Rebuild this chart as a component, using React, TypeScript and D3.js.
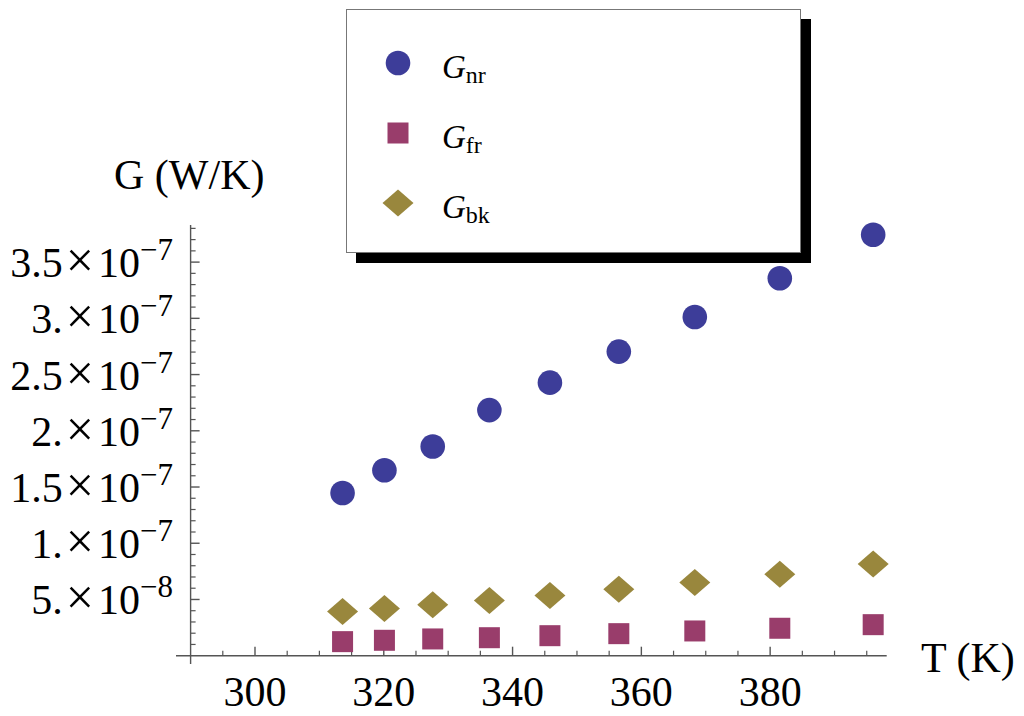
import * as d3 from "d3";

// ── Data ──────────────────────────────────────────────────────
const T_K = [313.6, 320.1, 327.6, 336.4, 345.8, 356.5, 368.3, 381.5, 396.0];
const G_NR = [1.447e-7, 1.649e-7, 1.86e-7, 2.184e-7, 2.428e-7, 2.704e-7, 3.012e-7, 3.357e-7, 3.743e-7];
const G_FR = [1.25e-8, 1.37e-8, 1.49e-8, 1.6e-8, 1.78e-8, 1.96e-8, 2.2e-8, 2.44e-8, 2.76e-8];
const G_BK = [3.92e-8, 4.19e-8, 4.52e-8, 4.9e-8, 5.35e-8, 5.92e-8, 6.51e-8, 7.25e-8, 8.15e-8];

const X_MAJOR = [300, 320, 340, 360, 380];
const Y_MAJOR = [5e-8, 1e-7, 1.5e-7, 2e-7, 2.5e-7, 3e-7, 3.5e-7];
const Y_LABELS = [
  { m: "5.", e: "−8" },
  { m: "1.", e: "−7" },
  { m: "1.5", e: "−7" },
  { m: "2.", e: "−7" },
  { m: "2.5", e: "−7" },
  { m: "3.", e: "−7" },
  { m: "3.5", e: "−7" },
];

const LEGEND = [
  { name: "nr", color: "#3d3d99", shape: "circle" },
  { name: "fr", color: "#993d6b", shape: "square" },
  { name: "bk", color: "#99873d", shape: "diamond" },
];

// ── Geometry ──────────────────────────────────────────────────
const W = 1024;
const H = 716;
const FONT = "'Liberation Serif', 'Times New Roman', serif";
const AXIS = "#555555";

const x = d3.scaleLinear().domain([290, 398.1]).range([190.6, 886.7]);
const y = d3.scaleLinear().domain([0, 3.83e-7]).range([655.7, 225]);

const xMinor = d3.range(295, 398, 5).filter((v) => v % 20 !== 0);
const yMinor = d3.range(1, 39).map((i) => i * 1e-8).filter((_, i) => (i + 1) % 5 !== 0);

const R = 12.3;
const SQ = 21;
const DW = 15.5;
const DH = 13.5;

function diamond(cx: number, cy: number) {
  return `M${cx - DW},${cy}L${cx},${cy - DH}L${cx + DW},${cy}L${cx},${cy + DH}Z`;
}

function Marker({ shape, color, cx, cy }: { shape: string; color: string; cx: number; cy: number }) {
  if (shape === "circle") return <circle cx={cx} cy={cy} r={R} fill={color} />;
  if (shape === "square")
    return <rect x={cx - SQ / 2} y={cy - SQ / 2} width={SQ} height={SQ} fill={color} />;
  return <path d={diamond(cx, cy)} fill={color} />;
}

export default function App() {
  const series = [G_NR, G_FR, G_BK];

  return (
    <svg
      width={W}
      height={H}
      style={{ position: "absolute", left: 0, top: 0, background: "#fff" }}
      fontFamily={FONT}
    >
      {/* axes */}
      <line x1={176} x2={x(398.1)} y1={y(0)} y2={y(0)} stroke={AXIS} strokeWidth={1.4} />
      <line x1={x(290)} x2={x(290)} y1={y(3.83e-7)} y2={664} stroke={AXIS} strokeWidth={1.4} />

      {X_MAJOR.map((v) => (
        <g key={v}>
          <line x1={x(v)} x2={x(v)} y1={y(0)} y2={y(0) - 9} stroke={AXIS} strokeWidth={1.4} />
          <text x={x(v)} y={706} fontSize={42} textAnchor="middle" fill="#000">
            {v}
          </text>
        </g>
      ))}
      {xMinor.map((v) => (
        <line key={v} x1={x(v)} x2={x(v)} y1={y(0)} y2={y(0) - 5} stroke={AXIS} strokeWidth={1.2} />
      ))}

      {Y_MAJOR.map((v, i) => (
        <g key={v}>
          <line x1={x(290)} x2={x(290) + 9} y1={y(v)} y2={y(v)} stroke={AXIS} strokeWidth={1.4} />
          <text x={173} y={y(v) + 15} fontSize={42} textAnchor="end" fill="#000">
            <tspan>{Y_LABELS[i].m}</tspan>
            <tspan dx={3} fontSize={50}>×</tspan>
            <tspan dx={4}>10</tspan>
            <tspan fontSize={31} dy={-17}>
              {Y_LABELS[i].e}
            </tspan>
          </text>
        </g>
      ))}
      {yMinor.map((v) => (
        <line key={v} x1={x(290)} x2={x(290) + 5} y1={y(v)} y2={y(v)} stroke={AXIS} strokeWidth={1.2} />
      ))}

      {/* axis labels */}
      <text x={114} y={189} fontSize={42} fill="#000">
        G (W/K)
      </text>
      <text x={921} y={672} fontSize={42} fill="#000">
        T (K)
      </text>

      {/* data */}
      {series.map((vals, si) =>
        vals.map((v, i) => (
          <Marker
            key={`${si}-${i}`}
            shape={LEGEND[si].shape}
            color={LEGEND[si].color}
            cx={x(T_K[i])}
            cy={y(v)}
          />
        ))
      )}

      {/* legend */}
      <rect x={356} y={19} width={455} height={244} fill="#000" />
      <rect x={346.5} y={9.5} width={454} height={243} fill="#fff" stroke="#777" strokeWidth={1} />
      {LEGEND.map((d, i) => {
        const cy = 63 + i * 70;
        return (
          <g key={d.name}>
            <Marker shape={d.shape} color={d.color} cx={398} cy={cy} />
            <text x={442} y={cy + 15} fontSize={33} fill="#000">
              <tspan fontStyle="italic">G</tspan>
              <tspan fontSize={24} dy={5}>
                {d.name}
              </tspan>
            </text>
          </g>
        );
      })}
    </svg>
  );
}
